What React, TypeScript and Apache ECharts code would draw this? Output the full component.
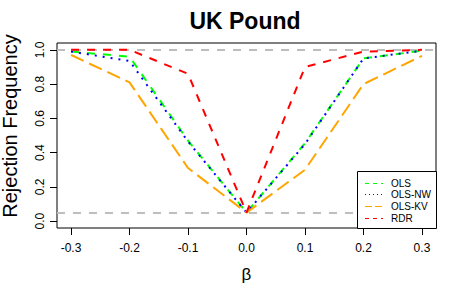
import React, { useEffect, useRef } from "react";
import * as echarts from "echarts";

const betas = [-0.3, -0.2, -0.1, 0, 0.1, 0.2, 0.3];
const ols = [0.99, 0.96, 0.47, 0.05, 0.455, 0.95, 0.995];
const olsNW = [0.99, 0.935, 0.465, 0.05, 0.45, 0.95, 0.995];
const olsKV = [0.97, 0.81, 0.31, 0.05, 0.3, 0.8, 0.965];
const rdr = [1.0, 1.0, 0.86, 0.05, 0.9, 0.99, 1.0];
const xTicks = [-0.3, -0.2, -0.1, 0, 0.1, 0.2, 0.3];
const yTicks = [0, 0.2, 0.4, 0.6, 0.8, 1.0];
const refLines = [1.0, 0.05];
const seriesNames = ["OLS", "OLS-NW", "OLS-KV", "RDR"];
const seriesColors = ["#00FF00", "#0000FF", "#FFA500", "#FF0000"];
const FONT = "'Liberation Sans', Arial, sans-serif";

export default function App() {
  const ref = useRef<HTMLDivElement>(null);
  useEffect(() => {
    if (!ref.current) return;
    const chart = echarts.init(ref.current, null, { renderer: "svg" });
    const allData = [ols, olsNW, olsKV, rdr];
    const dashes: any[] = [[8, 8], [2, 6], [14, 6], [8, 8]];
    const legendDashes: any[] = [[4, 4], [1, 3], [7, 3], [4, 4]];
    const series: any[] = allData.map((vals, i) => ({
      name: seriesNames[i],
      type: "line",
      data: betas.map((b, j) => [b, vals[j]]),
      showSymbol: false,
      symbol: "none",
      lineStyle: { color: seriesColors[i], width: 2, type: dashes[i], cap: "butt" },
      z: 3 + i,
      silent: true,
      markLine:
        i === 0
          ? {
              silent: true,
              symbol: "none",
              label: { show: false },
              lineStyle: { color: "#BEBEBE", width: 2, type: [8, 8] },
              data: refLines.map((v) => ({ yAxis: v })),
              z: 1,
            }
          : undefined,
    }));

    const legendX = 357;
    const legendY = 171;
    const legendRows = [183, 194, 206, 218];
    const legendGraphics: any[] = [
      {
        type: "rect",
        shape: { x: legendX + 0.5, y: legendY + 0.5, width: 79, height: 57 },
        style: { fill: "#fff", stroke: "#000", lineWidth: 1 },
        z: 100,
      },
    ];
    seriesNames.forEach((n, i) => {
      legendGraphics.push({
        type: "line",
        shape: { x1: 365, y1: legendRows[i] + 0.5, x2: 383, y2: legendRows[i] + 0.5 },
        style: { stroke: seriesColors[i], lineWidth: 1, lineDash: legendDashes[i] },
        z: 101,
      });
      legendGraphics.push({
        type: "text",
        x: 391,
        y: legendRows[i] + 0.5,
        style: {
          text: n,
          font: `10px ${FONT}`,
          fill: "#000",
          textAlign: "left",
          textVerticalAlign: "middle",
        },
        z: 101,
      });
    });

    chart.setOption({
      animation: false,
      grid: {
        left: 57,
        right: 14,
        top: 43,
        bottom: 72,
        show: true,
        borderColor: "#000",
        borderWidth: 1,
        containLabel: false,
      },
      xAxis: {
        type: "value",
        min: -0.324,
        max: 0.324,
        splitLine: { show: false },
        axisLine: { show: false, onZero: false },
        axisTick: { show: true, length: 7, customValues: xTicks, lineStyle: { color: "#000" } },
        axisLabel: {
          customValues: xTicks,
          formatter: (v: number) => v.toFixed(1),
          color: "#000",
          fontSize: 12,
          fontFamily: FONT,
          margin: 14,
        },
      },
      yAxis: {
        type: "value",
        min: -0.04,
        max: 1.04,
        splitLine: { show: false },
        axisLine: { show: false, onZero: false },
        axisTick: { show: true, length: 7, customValues: yTicks, lineStyle: { color: "#000" } },
        axisLabel: {
          customValues: yTicks,
          formatter: (v: number) => v.toFixed(1),
          color: "#000",
          fontSize: 12,
          fontFamily: FONT,
          rotate: 90,
          margin: 11,
        },
      },
      series,
      graphic: [
        {
          type: "text",
          x: 245,
          y: 21,
          style: {
            text: "UK Pound",
            font: `bold 23px ${FONT}`,
            fill: "#000",
            textAlign: "center",
            textVerticalAlign: "middle",
          },
        },
        {
          type: "text",
          x: 10,
          y: 126,
          rotation: Math.PI / 2,
          style: {
            text: "Rejection Frequency",
            font: `20px ${FONT}`,
            fill: "#000",
            textAlign: "center",
            textVerticalAlign: "middle",
          },
        },
        {
          type: "text",
          x: 246.5,
          y: 274,
          style: {
            text: "β",
            font: `17px ${FONT}`,
            fill: "#000",
            textAlign: "center",
            textVerticalAlign: "middle",
          },
        },
        ...legendGraphics,
      ],
    });
    return () => chart.dispose();
  }, []);
  return (
    <div
      ref={ref}
      style={{ position: "fixed", left: 0, top: 0, width: 450, height: 300, background: "#fff" }}
    />
  );
}
